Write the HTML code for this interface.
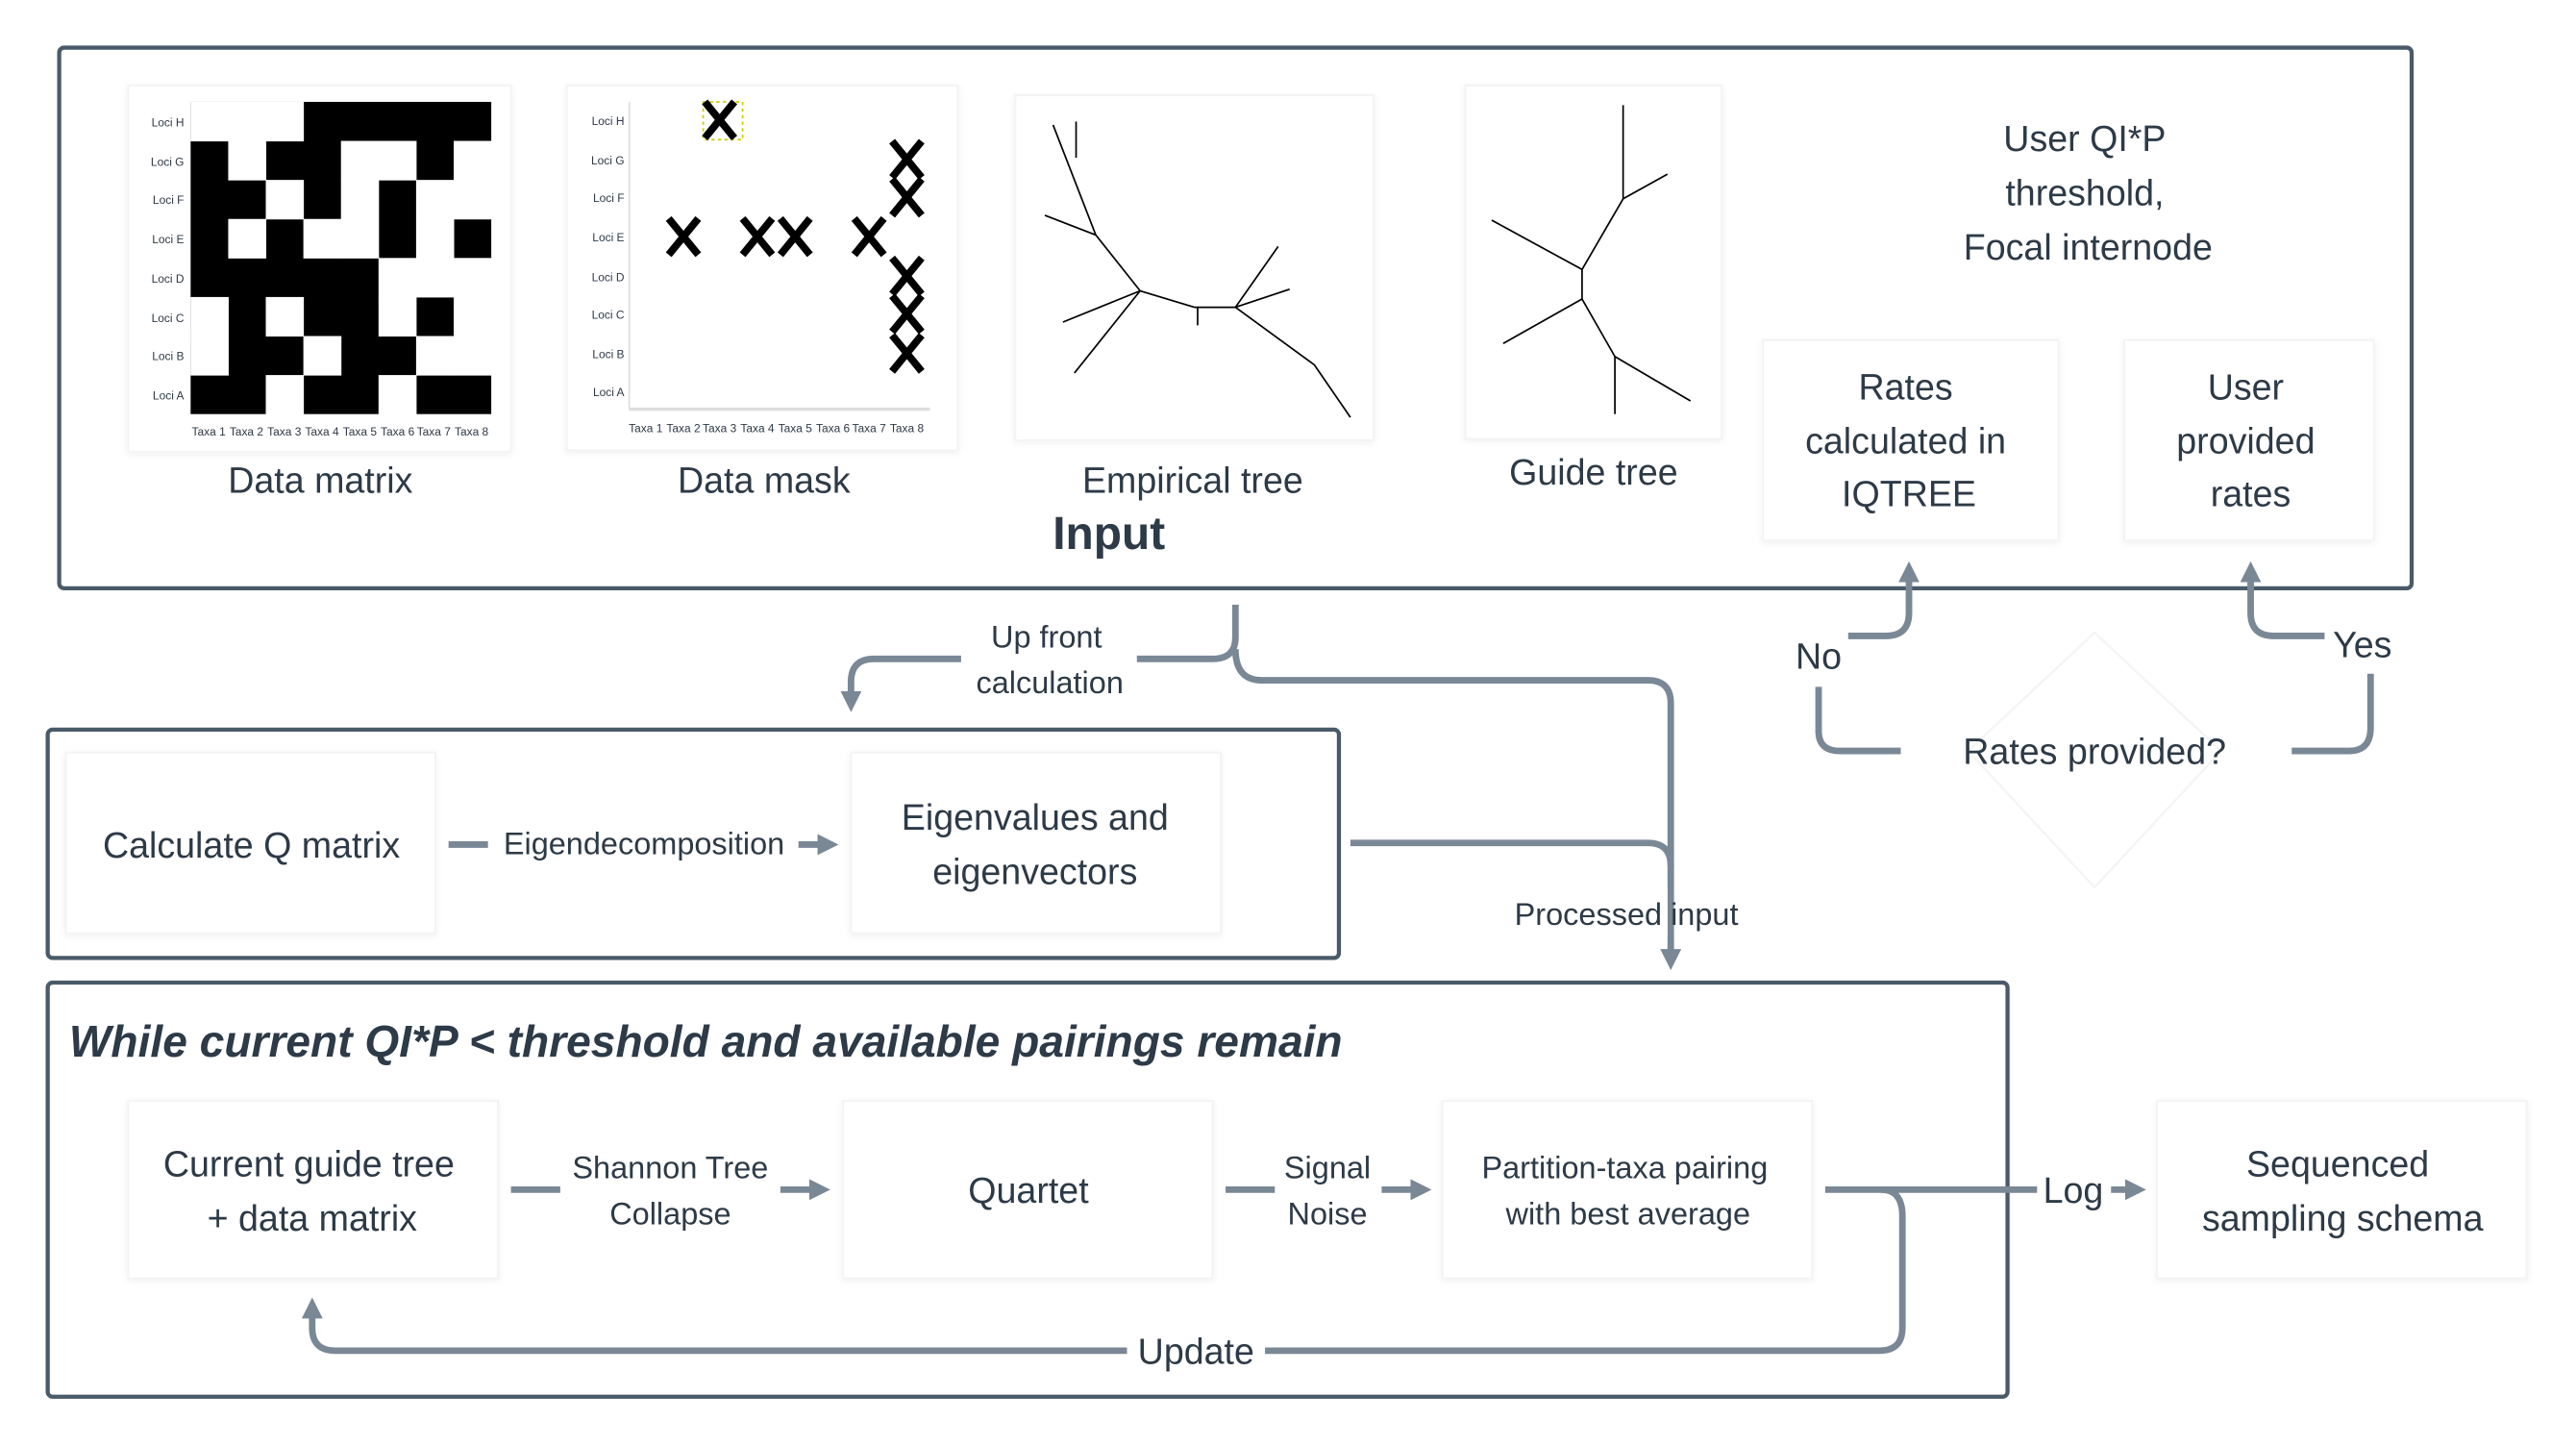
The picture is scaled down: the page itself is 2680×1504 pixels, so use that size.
<!DOCTYPE html>
<html><head><meta charset="utf-8"><style>
html,body{margin:0;padding:0;background:#fff;}
svg{display:block;}
text{font-family:"Liberation Sans",sans-serif;fill:#2d3a47;}
.c{fill:none;stroke:#7a8896;stroke-width:4;stroke-linecap:butt;}
.card{fill:#fff;stroke:#f4f4f4;stroke-width:1.2;}
.fr{fill:none;stroke:#4a5a68;stroke-width:2.5;}
.t{stroke:#000;stroke-width:1;}
</style></head><body>
<svg width="2680" height="1504" viewBox="0 0 1568 880" xmlns="http://www.w3.org/2000/svg">
<defs>
<marker id="a" viewBox="0 0 10 10" refX="5" refY="5" markerWidth="3.2" markerHeight="3.2" orient="auto-start-reverse"><path d="M0,0L10,5L0,10z" fill="#7a8896"/></marker>
<filter id="sh" x="-10%" y="-10%" width="120%" height="120%"><feDropShadow dx="0" dy="1" stdDeviation="2" flood-color="#000" flood-opacity="0.06"/></filter>
</defs>
<rect x="0" y="0" width="1568" height="880" fill="#fff"/>

<rect class="fr" x="36" y="29" width="1432" height="329" rx="3"/>

<rect class="card" x="78" y="52" width="233" height="223" filter="url(#sh)"/>
<rect x="116" y="62" width="183" height="190" fill="#000"/>
<g fill="#fff" id="mat"></g>
<g font-size="7" text-anchor="end" fill="#444">
<text x="112" y="77">Loci H</text><text x="112" y="101">Loci G</text><text x="112" y="124">Loci F</text><text x="112" y="148">Loci E</text><text x="112" y="172">Loci D</text><text x="112" y="196">Loci C</text><text x="112" y="219">Loci B</text><text x="112" y="243">Loci A</text>
</g>
<g font-size="7" text-anchor="middle">
<text x="127" y="265">Taxa 1</text><text x="150" y="265">Taxa 2</text><text x="173" y="265">Taxa 3</text><text x="196" y="265">Taxa 4</text><text x="219" y="265">Taxa 5</text><text x="242" y="265">Taxa 6</text><text x="264" y="265">Taxa 7</text><text x="287" y="265">Taxa 8</text>
</g>
<text x="195" y="300" font-size="22" text-anchor="middle">Data matrix</text>

<rect class="card" x="345" y="52" width="238" height="222" filter="url(#sh)"/>
<line x1="383" y1="62" x2="383" y2="249" stroke="#ddd"/><line x1="383" y1="249" x2="566" y2="249" stroke="#ddd" stroke-width="2"/>
<g font-size="7" text-anchor="end">
<text x="380" y="76">Loci H</text><text x="380" y="100">Loci G</text><text x="380" y="123">Loci F</text><text x="380" y="147">Loci E</text><text x="380" y="171">Loci D</text><text x="380" y="194">Loci C</text><text x="380" y="218">Loci B</text><text x="380" y="241">Loci A</text>
</g>
<g font-size="7" text-anchor="middle">
<text x="393" y="263">Taxa 1</text><text x="416" y="263">Taxa 2</text><text x="438" y="263">Taxa 3</text><text x="461" y="263">Taxa 4</text><text x="484" y="263">Taxa 5</text><text x="507" y="263">Taxa 6</text><text x="529" y="263">Taxa 7</text><text x="552" y="263">Taxa 8</text>
</g>
<rect x="428" y="62" width="24" height="23" fill="none" stroke="#cc0" stroke-dasharray="2,2"/>
<g stroke="#000" stroke-width="4.5" id="xs"></g>
<text x="465" y="300" font-size="22" text-anchor="middle">Data mask</text>

<rect class="card" x="618" y="58" width="218" height="210" filter="url(#sh)"/>
<g class="t">
<line x1="641" y1="76" x2="667" y2="143"/><line x1="655" y1="74" x2="655" y2="96"/>
<line x1="636" y1="131" x2="667" y2="143"/><line x1="667" y1="143" x2="694" y2="177"/>
<line x1="694" y1="177" x2="647" y2="196"/><line x1="694" y1="177" x2="654" y2="227"/>
<line x1="694" y1="177" x2="727" y2="187"/><line x1="727" y1="187" x2="752" y2="187"/>
<line x1="729" y1="187" x2="729" y2="198"/><line x1="752" y1="187" x2="778" y2="150"/>
<line x1="752" y1="187" x2="785" y2="176"/><line x1="752" y1="187" x2="800" y2="222"/>
<line x1="800" y1="222" x2="822" y2="254"/>
</g>
<text x="726" y="300" font-size="22" text-anchor="middle">Empirical tree</text>
<text x="675" y="334" font-size="28" font-weight="bold" text-anchor="middle">Input</text>

<rect class="card" x="892" y="52" width="156" height="215" filter="url(#sh)"/>
<g class="t">
<line x1="988" y1="64" x2="988" y2="121"/><line x1="988" y1="121" x2="1015" y2="106"/>
<line x1="988" y1="121" x2="963" y2="164"/><line x1="963" y1="164" x2="908" y2="134"/>
<line x1="963" y1="164" x2="963" y2="182"/><line x1="963" y1="182" x2="915" y2="209"/>
<line x1="963" y1="182" x2="983" y2="217"/><line x1="983" y1="217" x2="983" y2="252"/>
<line x1="983" y1="217" x2="1029" y2="244"/>
</g>
<text x="970" y="295" font-size="22" text-anchor="middle">Guide tree</text>

<g font-size="22" text-anchor="middle">
<text x="1269" y="92">User QI*P</text><text x="1269" y="125">threshold,</text><text x="1271" y="158">Focal internode</text>
</g>

<rect class="card" x="1073" y="207" width="180" height="122" filter="url(#sh)"/>
<g font-size="22" text-anchor="middle"><text x="1160" y="243">Rates</text><text x="1160" y="276">calculated in</text><text x="1162" y="308">IQTREE</text></g>
<rect class="card" x="1293" y="207" width="152" height="122" filter="url(#sh)"/>
<g font-size="22" text-anchor="middle"><text x="1367" y="243">User</text><text x="1367" y="276">provided</text><text x="1370" y="308">rates</text></g>

<path d="M1275,385 L1352,457 L1275,540 L1198,457z" fill="#fff" stroke="#f5f5f5" stroke-width="1.5"/>
<text x="1275" y="465" font-size="22" text-anchor="middle">Rates provided?</text>
<path class="c" d="M1125,387 L1148,387 Q1162,387 1162,373 L1162,348" marker-end="url(#a)"/>
<text x="1107" y="407" font-size="22" text-anchor="middle">No</text>
<path class="c" d="M1107,418 L1107,445 Q1107,457 1120,457 L1157,457"/>
<path class="c" d="M1415,387 L1384,387 Q1370,387 1370,373 L1370,348" marker-end="url(#a)"/>
<text x="1438" y="400" font-size="22" text-anchor="middle">Yes</text>
<path class="c" d="M1443,410 L1443,443 Q1443,457 1430,457 L1395,457"/>

<path class="c" d="M752,368 L752,388 Q752,401 738,401 L692,401"/>
<g font-size="19" text-anchor="middle"><text x="637" y="394">Up front</text><text x="639" y="422">calculation</text></g>
<path class="c" d="M585,401 L532,401 Q518,401 518,415 L518,427" marker-end="url(#a)"/>
<path class="c" d="M752,395 Q752,414 768,414 L1003,414 Q1017,414 1017,428 L1017,584" marker-end="url(#a)"/>
<path class="c" d="M822,513 L1003,513 Q1017,513 1017,527"/>
<rect x="1009" y="540" width="6" height="30" fill="#fff"/>
<text x="990" y="563" font-size="19" text-anchor="middle">Processed  input</text>

<rect class="fr" x="29" y="444" width="786" height="139" rx="3"/>
<rect class="card" x="40" y="458" width="225" height="110" filter="url(#sh)"/>
<text x="153" y="522" font-size="22" text-anchor="middle">Calculate Q matrix</text>
<path class="c" d="M273,514 L297,514"/>
<text x="392" y="520" font-size="19" text-anchor="middle">Eigendecomposition</text>
<path class="c" d="M486,514 L504,514" marker-end="url(#a)"/>
<rect class="card" x="518" y="458" width="225" height="110" filter="url(#sh)"/>
<g font-size="22" text-anchor="middle"><text x="630" y="505">Eigenvalues and</text><text x="630" y="538">eigenvectors</text></g>

<rect class="fr" x="29" y="598" width="1193" height="252" rx="3"/>
<text x="42" y="643" font-size="27" font-weight="bold" font-style="italic">While current QI*P &lt; threshold and available pairings remain</text>
<rect class="card" x="78" y="670" width="225" height="108" filter="url(#sh)"/>
<g font-size="22" text-anchor="middle"><text x="188" y="716">Current guide tree</text><text x="190" y="749">+ data matrix</text></g>
<path class="c" d="M311,724 L341,724"/>
<g font-size="19" text-anchor="middle"><text x="408" y="717">Shannon Tree</text><text x="408" y="745">Collapse</text></g>
<path class="c" d="M475,724 L499,724" marker-end="url(#a)"/>
<rect class="card" x="513" y="670" width="225" height="108" filter="url(#sh)"/>
<text x="626" y="732" font-size="22" text-anchor="middle">Quartet</text>
<path class="c" d="M746,724 L776,724"/>
<g font-size="19" text-anchor="middle"><text x="808" y="717">Signal</text><text x="808" y="745">Noise</text></g>
<path class="c" d="M841,724 L865,724" marker-end="url(#a)"/>
<rect class="card" x="878" y="670" width="225" height="108" filter="url(#sh)"/>
<g font-size="19" text-anchor="middle"><text x="989" y="717">Partition-taxa pairing</text><text x="991" y="745">with best average</text></g>
<path class="c" d="M1111,724 L1240,724"/>
<text x="1262" y="732" font-size="22" text-anchor="middle">Log</text>
<path class="c" d="M1285,724 L1300,724" marker-end="url(#a)"/>
<rect class="card" x="1313" y="670" width="225" height="108" filter="url(#sh)"/>
<g font-size="22" text-anchor="middle"><text x="1423" y="716">Sequenced</text><text x="1426" y="749">sampling schema</text></g>
<path class="c" d="M1145,724 Q1158,724 1158,740 L1158,808 Q1158,822 1144,822 L770,822"/>
<text x="728" y="830" font-size="22" text-anchor="middle">Update</text>
<path class="c" d="M686,822 L204,822 Q190,822 190,808 L190,796" marker-end="url(#a)"/>
</svg>
<script>
(function(){
var NS="http://www.w3.org/2000/svg";
var rows=["00011111","10110010","11010100","10100101","11111000","01011010","01101100","11011011"];
var g=document.getElementById("mat");
var cw=183/8,ch=190/8;
for(var r=0;r<8;r++)for(var c=0;c<8;c++){if(rows[r][c]==="0"){var e=document.createElementNS(NS,"rect");e.setAttribute("x",116+c*cw);e.setAttribute("y",62+r*ch);e.setAttribute("width",cw+0.3);e.setAttribute("height",ch+0.3);g.appendChild(e);}}
var xs=document.getElementById("xs");
var tx=[393,416,438,461,484,507,529,552],ry=[73,97,120,144,168,191,215,238];
var pts=[[2,0],[1,3],[3,3],[4,3],[6,3],[7,1],[7,2],[7,4],[7,5],[7,6]];
pts.forEach(function(p){var x=tx[p[0]],y=ry[p[1]];
[[x-9,y-11,x+9,y+11],[x+9,y-11,x-9,y+11]].forEach(function(l){var e=document.createElementNS(NS,"line");e.setAttribute("x1",l[0]);e.setAttribute("y1",l[1]);e.setAttribute("x2",l[2]);e.setAttribute("y2",l[3]);xs.appendChild(e);});});
})();
</script>
</body></html>
